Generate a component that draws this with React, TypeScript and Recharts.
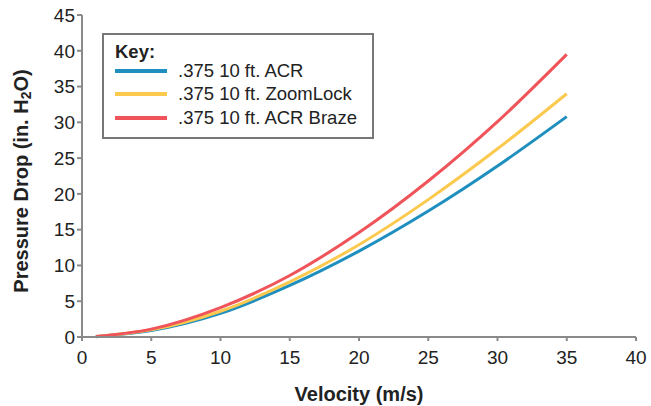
import React from "react";
import { LineChart, Line, XAxis, YAxis } from "recharts";

const velocity = [1, 5, 10, 15, 20, 25, 30, 35];
const acr = [0.05, 0.9, 3.3, 7.2, 12.0, 17.6, 23.9, 30.8];
const zoomLock = [0.06, 1.0, 3.6, 7.7, 12.9, 19.2, 26.3, 34.0];
const acrBraze = [0.07, 1.1, 4.1, 8.6, 14.6, 21.8, 30.1, 39.5];

const xTicks = [0, 5, 10, 15, 20, 25, 30, 35, 40];
const yTicks = [0, 5, 10, 15, 20, 25, 30, 35, 40, 45];

const series = [
  { key: "acr", name: ".375 10 ft. ACR", color: "#1f8fbf" },
  { key: "zoomLock", name: ".375 10 ft. ZoomLock", color: "#fbc94e" },
  { key: "acrBraze", name: ".375 10 ft. ACR Braze", color: "#ef545a" },
];

const data = velocity.map((v, i) => ({
  v,
  acr: acr[i],
  zoomLock: zoomLock[i],
  acrBraze: acrBraze[i],
}));

const FONT = "'Liberation Sans', Arial, sans-serif";
const AXIS = "#8a8a8a";

// key box sits over the plot, not in recharts' legend slot (that shrinks the plot)
const KeyBox = () => (
  <div
    style={{
      position: "absolute",
      left: 102,
      top: 33,
      width: 272,
      height: 106,
      border: "2px solid #777",
      background: "#fff",
      fontFamily: FONT,
      fontSize: 18.5,
      color: "#222",
      boxSizing: "border-box",
      padding: "4px 0 0 11px",
    }}
  >
    <div style={{ fontWeight: "bold", lineHeight: "20px", position: "relative", top: 3 }}>
      Key:
    </div>
    {series.map((s) => (
      <div key={s.key} style={{ display: "flex", alignItems: "center", height: 23.5 }}>
        <div style={{ width: 52, height: 4, background: s.color, marginRight: 11 }} />
        <span>{s.name}</span>
      </div>
    ))}
  </div>
);

const YTitle = (props: any) => {
  const { viewBox } = props;
  const cx = 21;
  const cy = viewBox.y + viewBox.height / 2 + 5;
  return (
    <text
      x={cx}
      y={cy}
      transform={`rotate(-90 ${cx} ${cy})`}
      textAnchor="middle"
      dominantBaseline="central"
      fontFamily={FONT}
      fontSize={20}
      fontWeight="bold"
      fill="#222"
    >
      Pressure Drop (in. H
      <tspan fontSize={14} dy={5}>2</tspan>
      <tspan dy={-5}>O)</tspan>
    </text>
  );
};

const App = () => {
  return (
    <div style={{ position: "absolute", left: 0, top: 0, background: "#fff" }}>
      <LineChart
        width={651}
        height={406}
        data={data}
        margin={{ top: 15, right: 15, left: 32, bottom: 39 }}
      >
        <XAxis
          dataKey="v"
          type="number"
          domain={[0, 40]}
          ticks={xTicks}
          interval={0}
          height={30}
          stroke={AXIS}
          strokeWidth={2}
          tickSize={4}
          tickMargin={10}
          tick={{ fill: "#222", fontSize: 19, fontFamily: FONT }}
          label={{
            value: "Velocity (m/s)",
            position: "insideBottom",
            offset: -34,
            fill: "#222",
            fontSize: 20,
            fontWeight: "bold",
            fontFamily: FONT,
          }}
        />
        <YAxis
          type="number"
          domain={[0, 45]}
          ticks={yTicks}
          interval={0}
          width={50}
          stroke={AXIS}
          strokeWidth={2}
          tickSize={5}
          tick={{ fill: "#222", fontSize: 19, fontFamily: FONT }}
          label={{ content: YTitle }}
        />
        {series.map((s) => (
          <Line
            key={s.key}
            type="monotone"
            dataKey={s.key}
            name={s.name}
            stroke={s.color}
            strokeWidth={3}
            dot={false}
            isAnimationActive={false}
          />
        ))}
      </LineChart>
      <KeyBox />
    </div>
  );
};

export default App;
